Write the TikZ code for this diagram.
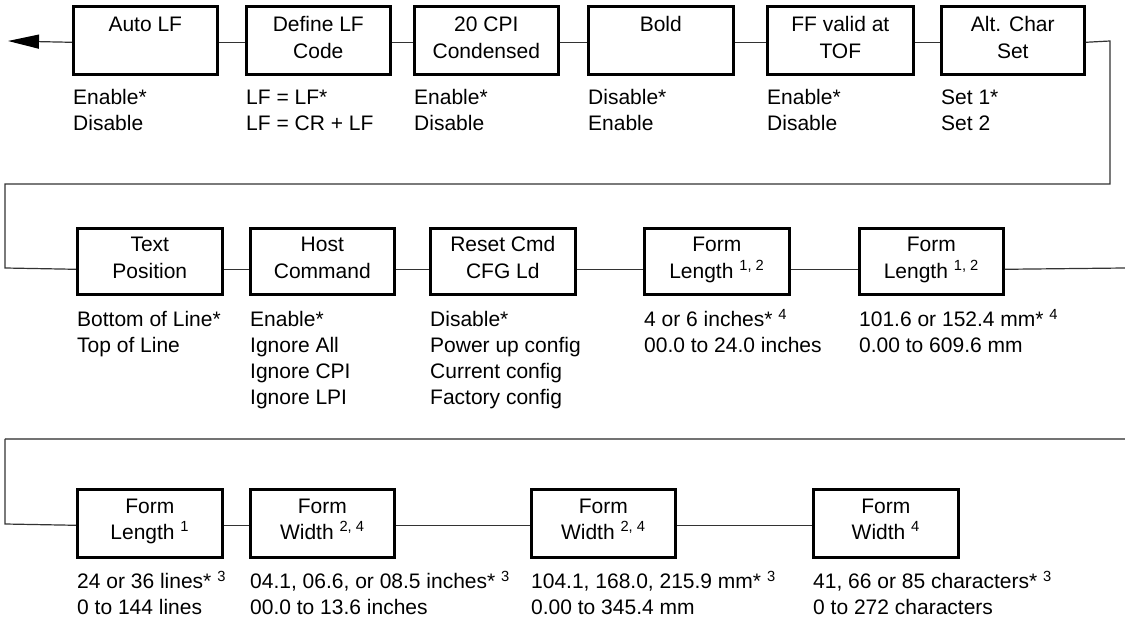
\documentclass[tikz,border=0pt]{standalone}
\usepackage{fontspec}
\setmainfont{Liberation Sans}
\usetikzlibrary{arrows.meta}
\begin{document}
\begin{tikzpicture}[x=1pt,y=-1pt,
  box/.style={draw, line width=2.6pt, minimum height=68pt, inner sep=0pt, anchor=north west},
  boxtxt/.style={anchor=base, align=center, inner sep=0pt, font=\fontsize{21pt}{26.5pt}\selectfont},
  opts/.style={anchor=base west, align=left, inner sep=0pt, font=\fontsize{21pt}{26pt}\selectfont},
  conn/.style={line width=1.2pt, draw=black!80},
  conngray/.style={line width=1.3pt, draw=black!55},
]
\useasboundingbox (0,0) rectangle (1125,617);

% ---------- row 1 ----------
\node[box, minimum width=144pt] (b1) at (72,5) {};
\node[box, minimum width=144pt] (b2) at (245,5) {};
\node[box, minimum width=144pt] (b3) at (413,5) {};
\node[box, minimum width=145pt] (b4) at (587,5) {};
\node[box, minimum width=146pt] (b5) at (766,5) {};
\node[box, minimum width=143pt] (b6) at (940,5) {};

% (multi-line nodes: base anchor = baseline of the last line)
\node[boxtxt] (b1t) at ([yshift=-27pt]b1.north) {Auto LF};
\node[boxtxt] (b2t) at ([yshift=-53.5pt]b2.north) {Define LF\\Code};
\node[boxtxt] (b3t) at ([yshift=-53.5pt]b3.north) {20 CPI\\Condensed};
\node[boxtxt] (b4t) at ([yshift=-27pt]b4.north) {Bold};
\node[boxtxt] (b5t) at ([yshift=-53.5pt]b5.north) {FF valid at\\TOF};
\node[boxtxt] (b6t) at ([yshift=-53.5pt]b6.north) {Alt. Char\\Set};

\node[opts] (b1o) at ([xshift=1pt,yshift=-55pt]b1.south west) {Enable*\\Disable};
\node[opts] (b2o) at ([xshift=1pt,yshift=-55pt]b2.south west) {LF = LF*\\LF = CR + LF};
\node[opts] (b3o) at ([xshift=1pt,yshift=-55pt]b3.south west) {Enable*\\Disable};
\node[opts] (b4o) at ([xshift=1pt,yshift=-55pt]b4.south west) {Disable*\\Enable};
\node[opts] (b5o) at ([xshift=1pt,yshift=-55pt]b5.south west) {Enable*\\Disable};
\node[opts] (b6o) at ([xshift=1pt,yshift=-55pt]b6.south west) {Set 1*\\Set 2};

% ---------- row 2 ----------
\node[box, minimum width=145pt, minimum height=66pt] (c1) at (76,227) {};
\node[box, minimum width=144pt, minimum height=66pt] (c2) at (249,227) {};
\node[box, minimum width=145pt, minimum height=66pt] (c3) at (429,227) {};
\node[box, minimum width=145pt, minimum height=66pt] (c4) at (643,227) {};
\node[box, minimum width=144pt, minimum height=66pt] (c5) at (858,227) {};

\node[boxtxt] (c1t) at ([yshift=-51.5pt]c1.north) {Text\\Position};
\node[boxtxt] (c2t) at ([yshift=-51.5pt]c2.north) {Host\\Command};
\node[boxtxt] (c3t) at ([yshift=-51.5pt]c3.north) {Reset Cmd\\CFG Ld};
\node[boxtxt] (c4t) at ([yshift=-51.5pt]c4.north) {Form\\Length \textsuperscript{1, 2}};
\node[boxtxt] (c5t) at ([yshift=-51.5pt]c5.north) {Form\\Length \textsuperscript{1, 2}};

\node[opts] (c1o) at ([xshift=1pt,yshift=-57pt]c1.south west) {Bottom of Line*\\Top of Line};
\node[opts] (c2o) at ([xshift=1pt,yshift=-109pt]c2.south west) {Enable*\\Ignore All\\Ignore CPI\\Ignore LPI};
\node[opts] (c3o) at ([xshift=1pt,yshift=-109pt]c3.south west) {Disable*\\Power up config\\Current config\\Factory config};
\node[opts] (c4o) at ([xshift=1pt,yshift=-57pt]c4.south west) {4 or 6 inches* \textsuperscript{4}\\00.0 to 24.0 inches};
\node[opts] (c5o) at ([xshift=1pt,yshift=-57pt]c5.south west) {101.6 or 152.4 mm* \textsuperscript{4}\\0.00 to 609.6 mm};

% ---------- row 3 ----------
\node[box, minimum width=145pt] (d1) at (76,488) {};
\node[box, minimum width=144pt] (d2) at (249,488) {};
\node[box, minimum width=144pt] (d3) at (530,488) {};
\node[box, minimum width=145pt] (d4) at (812,488) {};

\node[boxtxt] (d1t) at ([yshift=-51.5pt]d1.north) {Form\\Length \textsuperscript{1}};
\node[boxtxt] (d2t) at ([yshift=-51.5pt]d2.north) {Form\\Width \textsuperscript{2, 4}};
\node[boxtxt] (d3t) at ([yshift=-51.5pt]d3.north) {Form\\Width \textsuperscript{2, 4}};
\node[boxtxt] (d4t) at ([yshift=-51.5pt]d4.north) {Form\\Width \textsuperscript{4}};

\node[opts] (d1o) at ([xshift=1pt,yshift=-56pt]d1.south west) {24 or 36 lines* \textsuperscript{3}\\0 to 144 lines};
\node[opts] (d2o) at ([xshift=1pt,yshift=-56pt]d2.south west) {04.1, 06.6, or 08.5 inches* \textsuperscript{3}\\00.0 to 13.6 inches};
\node[opts] (d3o) at ([xshift=1pt,yshift=-56pt]d3.south west) {104.1, 168.0, 215.9 mm* \textsuperscript{3}\\0.00 to 345.4 mm};
\node[opts] (d4o) at ([xshift=1pt,yshift=-56pt]d4.south west) {41, 66 or 85 characters* \textsuperscript{3}\\0 to 272 characters};

% ---------- connectors ----------
\coordinate (tip) at (8,41);
\coordinate (r1) at (1110,41);
\coordinate (r2) at (1110,184);
\coordinate (l1) at (5,184);
\coordinate (l2) at (5,268);
\coordinate (rowtwoend) at (1125,268);
\coordinate (g1) at (1125,439);
\coordinate (g2) at (5,439);
\coordinate (g3) at (5,524);

\draw[conn, -{Triangle[length=31pt,width=14pt,color=black]}] ([yshift=-2pt]b1.west) -- (tip);
\draw[conn] ([yshift=-2pt]b1.east) -- ([yshift=-2pt]b2.west);
\draw[conn] ([yshift=-2pt]b2.east) -- ([yshift=-2pt]b3.west);
\draw[conn] ([yshift=-2pt]b3.east) -- ([yshift=-2pt]b4.west);
\draw[conn] ([yshift=-2pt]b4.east) -- ([yshift=-2pt]b5.west);
\draw[conn] ([yshift=-2pt]b5.east) -- ([yshift=-2pt]b6.west);
\draw[conn] ([yshift=-2pt]b6.east) -- (r1) -- (r2) -- (l1) -- (l2) -- ([yshift=-8pt]c1.west);

\draw[conn] ([yshift=-8pt]c1.east) -- ([yshift=-8pt]c2.west);
\draw[conn] ([yshift=-8pt]c2.east) -- ([yshift=-8pt]c3.west);
\draw[conn] ([yshift=-8pt]c3.east) -- ([yshift=-8pt]c4.west);
\draw[conn] ([yshift=-8pt]c4.east) -- ([yshift=-8pt]c5.west);
\draw[conn] ([yshift=-8pt]c5.east) -- (rowtwoend);

\draw[conngray] (g1) -- (g2);
\draw[conn] (g2) -- (g3) -- ([yshift=-2pt]d1.west);
\draw[conn] ([yshift=-2pt]d1.east) -- ([yshift=-2pt]d2.west);
\draw[conn] ([yshift=-2pt]d2.east) -- ([yshift=-2pt]d3.west);
\draw[conn] ([yshift=-2pt]d3.east) -- ([yshift=-2pt]d4.west);
\end{tikzpicture}
\end{document}
